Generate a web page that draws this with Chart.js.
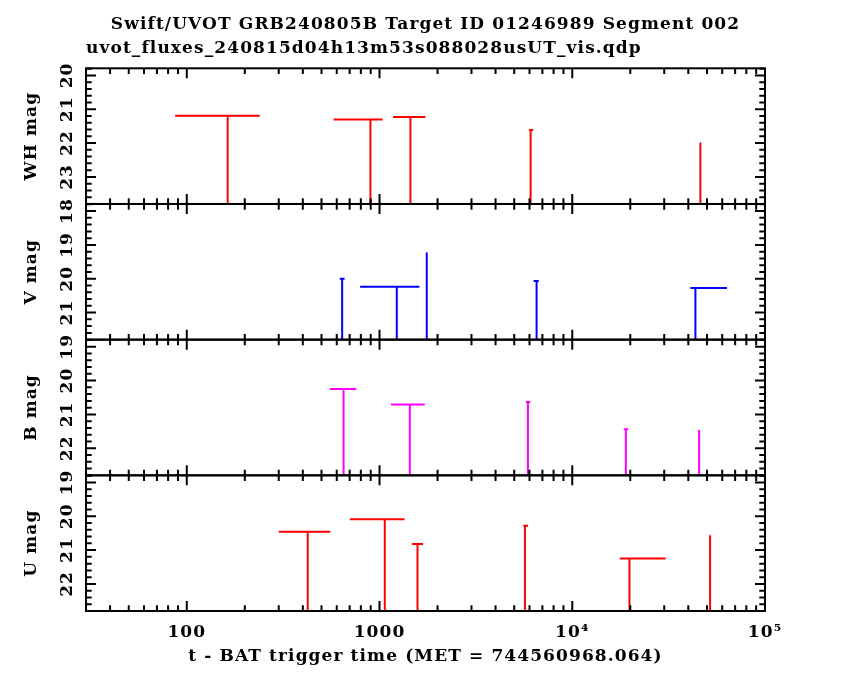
<!DOCTYPE html>
<html>
<head>
<meta charset="utf-8">
<script src="https://cdn.jsdelivr.net/npm/chart.js@4.4.1/dist/chart.umd.min.js"></script>
<style>
  html, body { margin: 0; padding: 0; background: #fff; }
  #wrap { width: 850px; height: 680px; position: relative; }
</style>
</head>
<body>
<div id="wrap"><canvas id="c" width="850" height="680"></canvas></div>
<script>
// ---- data (time since BAT trigger, s; magnitude upper limits) ----
const whTime  = [163, 897, 1447, 6080, 46200];
const whStart = [87, 578, 1176, 5960, 46000];
const whStop  = [239, 1036, 1730, 6280, 46400];
const whMag   = [21.19, 21.30, 21.23, 21.61, 22.00];

const vTime  = [640, 1229, 1758, 6530, 43550];
const vStart = [622, 793, 1745, 6300, 41000];
const vStop  = [659, 1611, 1775, 6700, 63500];
const vMag   = [20.00, 20.24, 19.25, 20.07, 20.27];

const bTime  = [651, 1436, 5890, 18970, 45500];
const bStart = [553, 1148, 5740, 18500, 45000];
const bStop  = [757, 1717, 6060, 19500, 46000];
const bMag   = [20.25, 20.71, 20.63, 21.44, 21.48];

const uTime  = [424, 1065, 1574, 5680, 19810, 51900];
const uStart = [300, 702, 1475, 5570, 17640, 51700];
const uStop  = [555, 1348, 1683, 5900, 30540, 52100];
const uMag   = [20.46, 20.09, 20.82, 20.28, 21.25, 20.57];

// axis ranges and tick labels
const xRange = [30, 100000];
const xTicks = [100, 1000, 10000, 100000];
const xTickLabels = ['100', '1000', '10\u2074', '10\u2075'];
const whRange = [19.79, 23.8];
const vRange  = [17.79, 21.8];
const bRange  = [18.79, 22.8];
const uRange  = [18.79, 22.8];
const whTicks = [20, 21, 22, 23];
const vTicks  = [18, 19, 20, 21];
const bTicks  = [19, 20, 21, 22];
const uTicks  = [19, 20, 21, 22];

const FONT = "'DejaVu Serif', serif";

// build upper-limit marks: horizontal time bar at the limit, stem down to panel floor
function limitSeries(t, t0, t1, m, floor) {
  const pts = [];
  for (let i = 0; i < t.length; i++) {
    pts.push({x: t0[i], y: m[i]}, {x: t1[i], y: m[i]}, {x: t[i], y: null});
    pts.push({x: t[i], y: m[i]}, {x: t[i], y: floor}, {x: t[i], y: null});
  }
  return pts;
}

function ds(label, data, color, axis) {
  return {
    label, data, yAxisID: axis,
    borderColor: color, backgroundColor: color,
    borderWidth: 2, pointRadius: 0, pointHoverRadius: 0,
    showLine: true, spanGaps: false, tension: 0,
    borderCapStyle: 'butt'
  };
}

function yAxis(range, ticks, title) {
  return {
    type: 'linear', position: 'left', stack: 'mag', stackWeight: 1,
    reverse: true, min: range[0], max: range[1],
    afterBuildTicks: (s) => { s.ticks = ticks.map(v => ({value: v})); },
    afterFit: (s) => { s.width = 86; },
    grid: { display: false }, border: { display: false },
    ticks: {
      color: '#000', font: { family: FONT, size: 17, weight: 'bold' },
      minRotation: 90, maxRotation: 90, crossAlign: 'center', padding: -1,
      autoSkip: false, callback: (v) => String(v)
    },
    title: {
      display: true, text: title, color: '#000',
      font: { family: FONT, size: 17, weight: 'bold' },
      padding: { top: 21, bottom: 0 }
    }
  };
}

// wider letter spacing, closer to the PGPLOT Hershey font
const spacingPlugin = {
  id: 'spacing',
  beforeDraw(chart) { chart.ctx.letterSpacing = '1.1px'; },
  afterDraw(chart) { chart.ctx.letterSpacing = '0px'; }
};

// frame and inward ticks, PGPLOT style
const framePlugin = {
  id: 'frame',
  afterDatasetsDraw(chart) {
    const ctx = chart.ctx;
    const xs = chart.scales.x;
    const L = xs.left, R = xs.right;
    const panels = ['yWH', 'yV', 'yB', 'yU'].map(id => chart.scales[id]);
    const minor = [];
    for (let d = 1; d <= 4; d++) for (let k = 2; k <= 9; k++) {
      const v = k * Math.pow(10, d);
      if (v > xRange[0] && v < xRange[1]) minor.push(v);
    }
    ctx.save();
    ctx.strokeStyle = '#000';
    ctx.lineWidth = 2;
    ctx.lineCap = 'butt';
    panels.forEach(p => {
      ctx.strokeRect(L, p.top, R - L, p.bottom - p.top);
      ctx.beginPath();
      const tick = (v, len) => {
        const px = xs.getPixelForValue(v);
        ctx.moveTo(px, p.top); ctx.lineTo(px, p.top + len);
        ctx.moveTo(px, p.bottom); ctx.lineTo(px, p.bottom - len);
      };
      xTicks.forEach(v => tick(v, 10));
      minor.forEach(v => tick(v, 5.7));
      const lo = Math.min(p.min, p.max), hi = Math.max(p.min, p.max);
      for (let n = Math.ceil(lo * 5 - 1e-6); n <= Math.floor(hi * 5 + 1e-6); n++) {
        const v = n / 5;
        const py = p.getPixelForValue(v);
        const len = (n % 5 === 0) ? 10 : 5.7;
        ctx.moveTo(L, py); ctx.lineTo(L + len, py);
        ctx.moveTo(R, py); ctx.lineTo(R - len, py);
      }
      ctx.stroke();
    });
    ctx.restore();
  }
};

new Chart(document.getElementById('c'), {
  type: 'scatter',
  data: {
    datasets: [
      ds('WH', limitSeries(whTime, whStart, whStop, whMag, whRange[1]), '#ff0000', 'yWH'),
      ds('V',  limitSeries(vTime, vStart, vStop, vMag, vRange[1]),      '#0000ff', 'yV'),
      ds('B',  limitSeries(bTime, bStart, bStop, bMag, bRange[1]),      '#ff00ff', 'yB'),
      ds('U',  limitSeries(uTime, uStart, uStop, uMag, uRange[1]),      '#ff0000', 'yU')
    ]
  },
  options: {
    responsive: false, animation: false, devicePixelRatio: 1,
    layout: { padding: { left: 0, right: 85, top: 0, bottom: 0 } },
    plugins: {
      legend: { display: false },
      tooltip: { enabled: false },
      title: {
        display: true, text: 'Swift/UVOT GRB240805B Target ID 01246989 Segment 002',
        color: '#000', font: { family: FONT, size: 17, weight: 'bold' },
        fullSize: false,
        padding: { top: 14, bottom: 0 }
      },
      subtitle: {
        display: true, text: 'uvot_fluxes_240815d04h13m53s088028usUT_vis.qdp',
        color: '#000', font: { family: FONT, size: 17, weight: 'bold' },
        align: 'start', fullSize: false,
        padding: { top: 3.6, bottom: 9.9 }
      }
    },
    scales: {
      x: {
        type: 'logarithmic', position: 'bottom', min: xRange[0], max: xRange[1],
        afterBuildTicks: (s) => { s.ticks = xTicks.map(v => ({value: v})); },
        afterFit: (s) => { s.height = 69; },
        grid: { display: false }, border: { display: false },
        ticks: {
          color: '#000', font: { family: FONT, size: 17, weight: 'bold' },
          maxRotation: 0, minRotation: 0, padding: 3, autoSkip: false,
          callback: (v) => { const i = xTicks.indexOf(v); return i >= 0 ? xTickLabels[i] : ''; }
        },
        title: {
          display: true, text: 't - BAT trigger time (MET = 744560968.064)', color: '#000',
          font: { family: FONT, size: 17, weight: 'bold' },
          padding: { top: 0, bottom: 13 }
        }
      },
      yU:  yAxis(uRange, uTicks, 'U mag'),
      yB:  yAxis(bRange, bTicks, 'B mag'),
      yV:  yAxis(vRange, vTicks, 'V mag'),
      yWH: yAxis(whRange, whTicks, 'WH mag')
    }
  },
  plugins: [spacingPlugin, framePlugin]
});
</script>
</body>
</html>
